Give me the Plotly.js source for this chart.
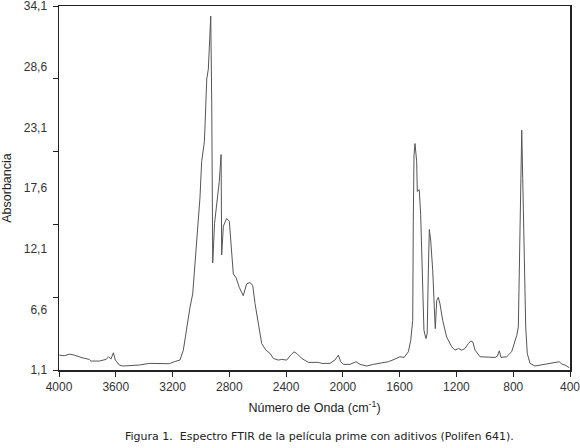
<!DOCTYPE html>
<html>
<head>
<meta charset="utf-8">
<script src="https://cdn.plot.ly/plotly-3.0.1.min.js"></script>
<style>html,body{margin:0;padding:0;background:#fff;}#chart{width:580px;height:448px;}</style>
</head>
<body>
<div id="chart"></div>
<script>
// Wavenumber (cm-1) and absorbance
const wavenumber = [3998,3963,3927,3892,3845,3787,3775,3716,3669,3650,3634,3617,3603,3575,3551,3434,3364,3223,3188,
  3148,3124,3100,3077,3058,3042,3019,3007,2995,2983,2976,2971,2959,2948,2931,2924,2920,2917,2904,2889,2885,2871,2858,2854,
  2842,2819,2800,2783,2772,2753,2730,2702,2678,2654,2635,2619,2596,2572,2542,2513,2490,2455,2431,2396,2368,2344,2325,2290,
  2244,2173,2149,2091,2056,2032,2015,1997,1950,1908,1879,1832,1786,1715,1680,1633,1598,1569,1539,1522,1508,1504,1499,1492,
  1480,1476,1462,1452,1438,1429,1415,1406,1398,1391,1381,1367,1356,1349,1339,1328,1316,1297,1269,1233,1210,1187,1163,1140,
  1116,1099,1085,1069,1034,975,928,912,898,886,846,811,787,775,764,752,745,740,733,724,712,701,682,647,599,541,494,475,459,435,405];
const absorbance = [2.45,2.39,2.54,2.45,2.24,2.06,1.91,1.91,2.06,2.30,2.09,2.66,2.00,1.55,1.46,1.55,1.70,1.67,1.85,
  2.00,2.90,4.99,6.79,8.00,10.70,15.19,16.68,19.98,20.88,21.78,23.31,27.48,28.38,33.18,25.38,18.19,10.81,14.41,15.94,16.68,18.19,20.64,11.53,
  14.14,14.83,14.59,12.07,9.80,9.49,8.59,7.84,8.90,9.04,8.74,7.13,5.15,3.50,2.90,2.60,2.15,2.00,2.06,2.00,2.45,2.75,2.60,2.15,
  1.79,1.79,1.70,1.70,2.00,2.45,1.85,1.61,1.61,1.85,1.61,1.46,1.61,1.76,1.85,2.09,2.30,2.24,2.75,3.80,5.60,14.59,20.59,21.63,
  19.98,17.29,17.44,15.19,7.39,4.70,3.95,4.40,10.09,13.84,12.79,10.09,6.79,4.85,7.39,7.69,7.10,5.60,4.09,3.20,2.90,3.05,2.90,3.05,
  3.50,3.73,3.65,2.90,2.30,2.24,2.24,2.36,2.84,2.24,2.30,2.75,3.65,4.25,4.99,12.49,18.48,22.84,18.48,10.99,4.99,2.60,1.70,1.46,1.55,1.70,1.76,1.85,1.64,1.55,1.31];

const xTicks = [4000,3600,3200,2800,2400,2000,1600,1200,800,400];
const yLabelVals = [1.1,6.6,12.1,17.6,23.1,28.6,34.1];
const yLabelText = ["1,1","6,6","12,1","17,6","23,1","28,6","34,1"];
const yTickMarks = [1.1,7.7,14.3,20.9,27.5,34.1];

const tickFont = {family:"Liberation Sans, Arial, sans-serif", size:12, color:"#333"};

Plotly.newPlot("chart", [{
  x: wavenumber, y: absorbance, type:"scatter", mode:"lines",
  line:{color:"#555", width:1}, hoverinfo:"skip", cliponaxis:false
}], {
  width:580, height:448,
  margin:{l:59, r:10, t:6, b:78},
  paper_bgcolor:"#fff", plot_bgcolor:"#fff",
  showlegend:false,
  xaxis:{
    range:[4000,400], tickmode:"array", tickvals:xTicks, ticktext:xTicks.map(String),
    ticks:"outside", ticklen:5, tickcolor:"#222", tickwidth:1, ticklabeloverflow:"allow",
    showline:true, linecolor:"#222", linewidth:1.5, mirror:true,
    showgrid:false, zeroline:false, tickfont:tickFont,
    title:{text:"Número de Onda (cm<sup>-1</sup>)", font:{family:"Liberation Sans, Arial, sans-serif", size:12.5, color:"#222"}, standoff:10}
  },
  yaxis:{
    range:[1.1,34.1], tickmode:"array", tickvals:yLabelVals, ticktext:yLabelText,
    ticks:"outside", ticklen:8, tickcolor:"rgba(0,0,0,0)", ticklabeloverflow:"allow",
    minor:{tickmode:"array", tickvals:yTickMarks, ticks:"outside", ticklen:5, tickcolor:"#222", tickwidth:1, showgrid:false},
    showline:true, linecolor:"#222", linewidth:1.5, mirror:true,
    showgrid:false, zeroline:false, tickfont:tickFont,
    title:{text:"Absorbancia", font:{family:"Liberation Sans, Arial, sans-serif", size:12.5, color:"#222"}, standoff:10}
  },
  annotations:[{
    text:"Figura 1.  Espectro FTIR de la película prime con aditivos (Polifen 641).",
    xref:"paper", yref:"paper", x:0.51, y:-66/364, xanchor:"center", yanchor:"middle",
    showarrow:false, font:{family:"DejaVu Sans, sans-serif", size:11, color:"#222"}
  }]
}, {displayModeBar:false, staticPlot:true});
</script>
</body>
</html>
